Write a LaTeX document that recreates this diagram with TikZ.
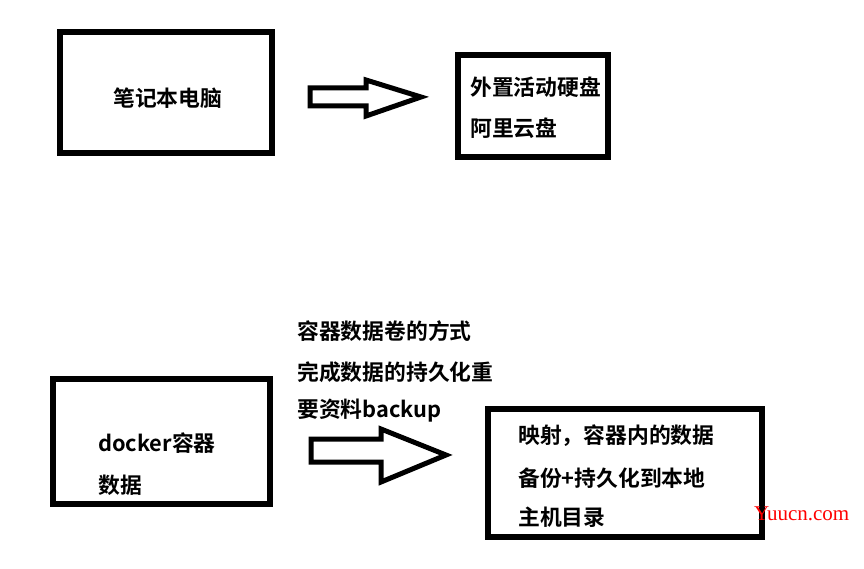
\documentclass[tikz,border=0pt]{standalone}
\usepackage{fontspec}
\setmainfont{Noto Sans CJK SC}[BoldFont={* Bold}]
\newfontfamily\cjkb{Noto Sans CJK SC Bold}
\newfontfamily\wmfont{Liberation Serif}
\begin{document}
\begin{tikzpicture}[x=1pt,y=-1pt,
  box/.style={draw=black,line width=5.5pt,fill=white},
  blockarrow/.style={draw=black,line width=5pt,fill=white,line join=miter},
  lbl/.style={anchor=west,inner sep=0pt,font=\fontsize{21.8}{26}\cjkb}]
\useasboundingbox (0,0) rectangle (864,569);
\fill[white] (0,0) rectangle (864,569);
% boxes
\draw[box] (60,32) rectangle (272,153);
\draw[box] (458,55) rectangle (608,157);
\draw[box] (53,379) rectangle (270,504);
\draw[box] (488,409) rectangle (762,537);
% arrows
\draw[blockarrow] (310,88) -- (366,88) -- (366,80) -- (421,97) -- (366,116) -- (366,106) -- (310,106) -- cycle;
\draw[blockarrow] (311,439) -- (381,439) -- (381,429) -- (446,455) -- (381,482) -- (381,462) -- (311,462) -- cycle;
% texts
\node[lbl] (t1) at (113,98) {笔记本电脑};
\node[lbl] (t2a) at (470,87) {外置活动硬盘};
\node[lbl] (t2b) at (470,128) {阿里云盘};
\node[lbl] (t3a) at (297,331) {容器数据卷的方式};
\node[lbl] (t3b) at (297,372) {完成数据的持久化重};
\node[lbl] (t3c) at (297,411) {要资料backup};
\node[lbl] (t4a) at (98,443) {docker容器};
\node[lbl] (t4b) at (98,485) {数据};
\node[lbl] (t5a) at (518,436) {映射，容器内的数据};
\node[lbl] (t5b) at (518,478) {备份+持久化到本地};
\node[lbl] (t5c) at (518,517) {主机目录};
\node[anchor=base west,inner sep=0pt,text=red,font=\fontsize{21}{25}\wmfont] (wm) at (754,520) {Yuucn.com};
\end{tikzpicture}
\end{document}
